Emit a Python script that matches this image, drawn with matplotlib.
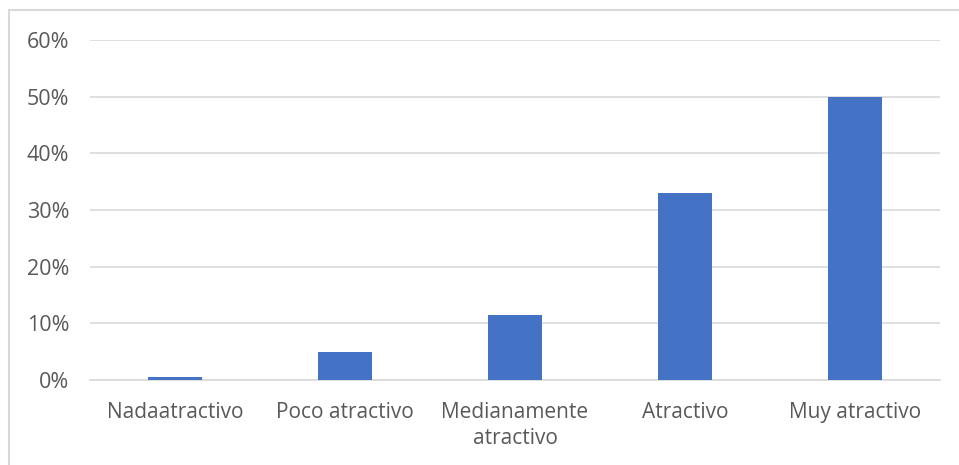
import matplotlib
matplotlib.use("Agg")
import matplotlib.pyplot as plt
from matplotlib.patches import Rectangle

# DATA
categories = ["Nadaatractivo", "Poco atractivo", "Medianamente\natractivo", "Atractivo", "Muy atractivo"]
values = [0.5, 5, 11.5, 33, 50]
yticks = [0, 10, 20, 30, 40, 50, 60]
ytick_labels = ["0%", "10%", "20%", "30%", "40%", "50%", "60%"]

plt.rcParams['font.family'] = ['Open Sans', 'DejaVu Sans']

fig = plt.figure(figsize=(9.59, 4.65), dpi=100)
ax = fig.add_axes([90 / 959, 1 - 380 / 465, 850 / 959, 340 / 465])

x = range(len(categories))
ax.bar(x, values, width=0.32, color="#4472c4", zorder=3)

ax.set_xlim(-0.5, len(categories) - 0.5)
ax.set_ylim(0, 60)
ax.set_yticks(yticks)
ax.set_yticklabels(ytick_labels)
ax.set_xticks(list(x))
ax.set_xticklabels(categories, fontsize=15, linespacing=1.3)

ax.grid(axis="y", color="#d9d9d9", linewidth=1.2, zorder=0)
for side in ["top", "right", "left"]:
    ax.spines[side].set_visible(False)
ax.spines["bottom"].set_color("#d9d9d9")
ax.spines["bottom"].set_linewidth(1.2)
ax.tick_params(length=0, colors="#595959")
ax.tick_params(axis="y", labelsize=15.5, pad=15)
ax.tick_params(axis="x", pad=16)

# CHART AREA BORDER
fig.patches.append(Rectangle((8.5 / 959, -0.1), 1.2, 1.1 - 10 / 465,
                             transform=fig.transFigure, fill=False,
                             edgecolor="#d9d9d9", linewidth=1.5))

fig.savefig("out.png", dpi=100)
